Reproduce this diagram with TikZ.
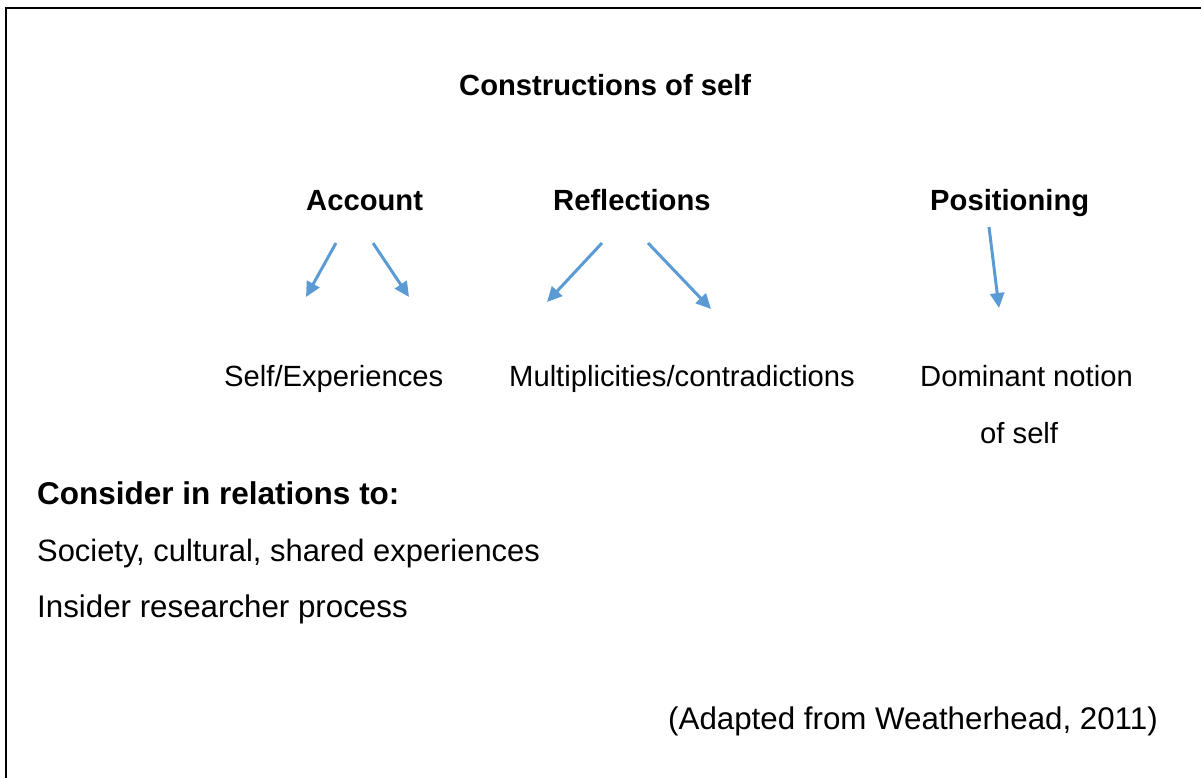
\documentclass[tikz,border=0pt]{standalone}
\usepackage{fontspec}
\setmainfont{Liberation Sans}
\usetikzlibrary{arrows.meta}
\definecolor{arrowblue}{HTML}{5B9BD5}
\begin{document}
\begin{tikzpicture}[x=1pt,y=-1pt,
  txt/.style={anchor=base west,inner sep=0pt,font=\fontsize{29.2}{35}\selectfont},
  btxt/.style={txt,font=\fontsize{29.2}{35}\selectfont\bfseries},
  ltxt/.style={txt,font=\fontsize{31.3}{37}\selectfont},
  lbtxt/.style={txt,font=\fontsize{31.5}{37}\selectfont\bfseries},
  arr/.style={draw=arrowblue,line width=3pt,-{Triangle[length=15pt,width=14pt]}}]
\useasboundingbox (0,0) rectangle (1201,778);
\draw[line width=2.2pt] (6,778) -- (6,8) -- (1201,8);
\node[btxt] (title) at (459,96) {Constructions of self};
\node[btxt] (account) at (306,211) {Account};
\node[btxt] (refl) at (553,211) {Reflections};
\node[btxt] (pos) at (930,211) {Positioning};
\node[txt] (selfexp) at (224,386) {Self/Experiences};
\node[txt] (multi) at (509,386) {Multiplicities/contradictions};
\node[txt] (dom1) at (920,386) {Dominant notion};
\node[txt] (dom2) at (980,443) {of self};
\node[lbtxt] (consider) at (37,504) {Consider in relations to:};
\node[ltxt,font=\fontsize{30.9}{37}\selectfont] (society) at (37,561) {Society, cultural, shared experiences};
\node[ltxt] (insider) at (37,617) {Insider researcher process};
\node[ltxt] (adapted) at (668,729) {(Adapted from Weatherhead, 2011)};
\coordinate (a1s) at (336,243); \coordinate (a1e) at (306,297);
\coordinate (a2s) at (373,243); \coordinate (a2e) at (409,297);
\coordinate (r1s) at (602,243); \coordinate (r1e) at (547,302);
\coordinate (r2s) at (648,243); \coordinate (r2e) at (711,309);
\coordinate (p1s) at (989,227); \coordinate (p1e) at (999,308);
\draw[arr] (a1s) -- (a1e);
\draw[arr] (a2s) -- (a2e);
\draw[arr] (r1s) -- (r1e);
\draw[arr] (r2s) -- (r2e);
\draw[arr] (p1s) -- (p1e);
\end{tikzpicture}
\end{document}
